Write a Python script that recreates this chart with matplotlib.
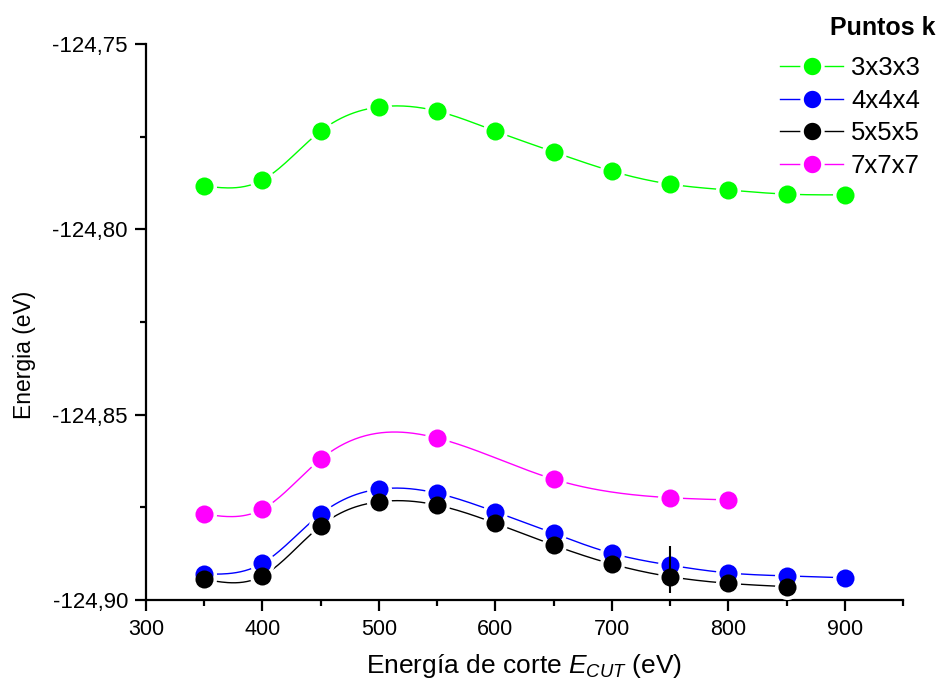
"""Energia total frente a la energia de corte para varias mallas de puntos k."""

import matplotlib

matplotlib.use("Agg")
import matplotlib.pyplot as plt
import numpy as np
from matplotlib.lines import Line2D
from matplotlib.ticker import FuncFormatter, MultipleLocator

plt.rcParams["font.family"] = ["Liberation Sans", "DejaVu Sans"]
plt.rcParams["mathtext.fontset"] = "custom"
plt.rcParams["mathtext.it"] = "Liberation Sans:italic"
plt.rcParams["mathtext.rm"] = "Liberation Sans"

# Data (eV)
ecut_full = [350, 400, 450, 500, 550, 600, 650, 700, 750, 800, 850, 900]
e_333 = [-124.7883, -124.7867, -124.7735, -124.7670, -124.7681, -124.7735,
         -124.7791, -124.7843, -124.7878, -124.7894, -124.7905, -124.7907]
e_444 = [-124.8930, -124.8901, -124.8768, -124.8701, -124.8712, -124.8762,
         -124.8820, -124.8874, -124.8906, -124.8927, -124.8935, -124.8940]
ecut_555 = [350, 400, 450, 500, 550, 600, 650, 700, 750, 800, 850]
e_555 = [-124.8944, -124.8935, -124.8800, -124.8735, -124.8744, -124.8793,
         -124.8852, -124.8903, -124.8937, -124.8955, -124.8964]
ecut_777 = [350, 400, 450, 550, 650, 750, 800]
e_777 = [-124.8768, -124.8755, -124.8620, -124.8563, -124.8674, -124.8724,
         -124.8730]

# single error bar on the 5x5x5 point at 750 eV
err_x = 750
err_y = -124.8937
err_low = 0.0044
err_high = 0.0083

series = [
    ("3x3x3", ecut_full, e_333, "#00ff00"),
    ("4x4x4", ecut_full, e_444, "#0000ff"),
    ("5x5x5", ecut_555, e_555, "#000000"),
    ("7x7x7", ecut_777, e_777, "#ff00ff"),
]


def natural_spline(x, y, n=300):
    """Natural cubic spline through (x, y), evaluated on n points."""
    x = np.asarray(x, float)
    y = np.asarray(y, float)
    k = len(x)
    h = np.diff(x)
    a = np.zeros((k, k))
    b = np.zeros(k)
    a[0, 0] = a[-1, -1] = 1.0
    for i in range(1, k - 1):
        a[i, i - 1] = h[i - 1]
        a[i, i] = 2 * (h[i - 1] + h[i])
        a[i, i + 1] = h[i]
        b[i] = 6 * ((y[i + 1] - y[i]) / h[i] - (y[i] - y[i - 1]) / h[i - 1])
    m = np.linalg.solve(a, b)
    xs = np.linspace(x[0], x[-1], n)
    idx = np.clip(np.searchsorted(x, xs) - 1, 0, k - 2)
    x0, x1 = x[idx], x[idx + 1]
    hh = x1 - x0
    t0, t1 = x1 - xs, xs - x0
    ys = (m[idx] * t0 ** 3 / (6 * hh) + m[idx + 1] * t1 ** 3 / (6 * hh)
          + (y[idx] / hh - m[idx] * hh / 6) * t0
          + (y[idx + 1] / hh - m[idx + 1] * hh / 6) * t1)
    return xs, ys


fig = plt.figure(figsize=(9.39, 6.86), dpi=100)
ax = fig.add_axes([146 / 939, 86 / 686, 757 / 939, 556 / 686])

msize = 13
# lines first, then white halos (gap round the markers), then the markers
for name, xv, yv, col in series:
    xs, ys = natural_spline(xv, yv)
    ax.plot(xs, ys, color=col, lw=1.0, zorder=2)
for name, xv, yv, col in series:
    ax.plot(xv, yv, "o", ms=msize + 5, color="white", mec="none", zorder=3)
for i, (name, xv, yv, col) in enumerate(series):
    ax.plot(xv, yv, "o", ms=msize, color=col, mec="none", zorder=4 + i * 0.1)

ax.errorbar([err_x], [err_y], yerr=[[err_low], [err_high]], fmt="none",
            ecolor="black", elinewidth=1.5, capsize=0, zorder=5)

ax.set_xlim(300, 950)
ax.set_ylim(-124.90, -124.75)
ax.xaxis.set_major_locator(MultipleLocator(100))
ax.xaxis.set_minor_locator(MultipleLocator(50))
ax.yaxis.set_major_locator(MultipleLocator(0.05))
ax.yaxis.set_minor_locator(MultipleLocator(0.025))
ax.yaxis.set_major_formatter(
    FuncFormatter(lambda v, p: f"{v:.2f}".replace(".", ",")))

for side in ("top", "right"):
    ax.spines[side].set_visible(False)
for side in ("left", "bottom"):
    ax.spines[side].set_linewidth(1.6)
ax.tick_params(which="major", direction="out", length=8, width=1.6, pad=5)
ax.tick_params(which="minor", direction="out", length=4.5, width=1.6)
ax.tick_params(axis="y", which="major", labelsize=16)
ax.tick_params(axis="x", which="major", labelsize=15.5, pad=6)

ax.set_xlabel(r"Energía de corte $E_{CUT}$ (eV)", fontsize=19, labelpad=8)
ax.set_ylabel("Energia (eV)", fontsize=16.5)
ax.yaxis.set_label_coords(-0.145, 0.44)

handles = [Line2D([], [], color=col, lw=1.0, marker="o", ms=msize + 2,
                  mfc=col, mec="white", mew=2.5)
           for name, xv, yv, col in series]
ax.legend(handles, [s[0] for s in series], loc="upper right",
          bbox_to_anchor=(920 / 939, 1 - 56 / 686),
          bbox_transform=fig.transFigure, frameon=False, fontsize=18.5,
          handlelength=2.45, handletextpad=0.3, labelspacing=0.34,
          borderpad=0, borderaxespad=0)
fig.text(935 / 939, 1 - 28 / 686, "Puntos k", fontsize=18, weight="bold",
         ha="right", va="center")

fig.savefig("out.png", dpi=100)
